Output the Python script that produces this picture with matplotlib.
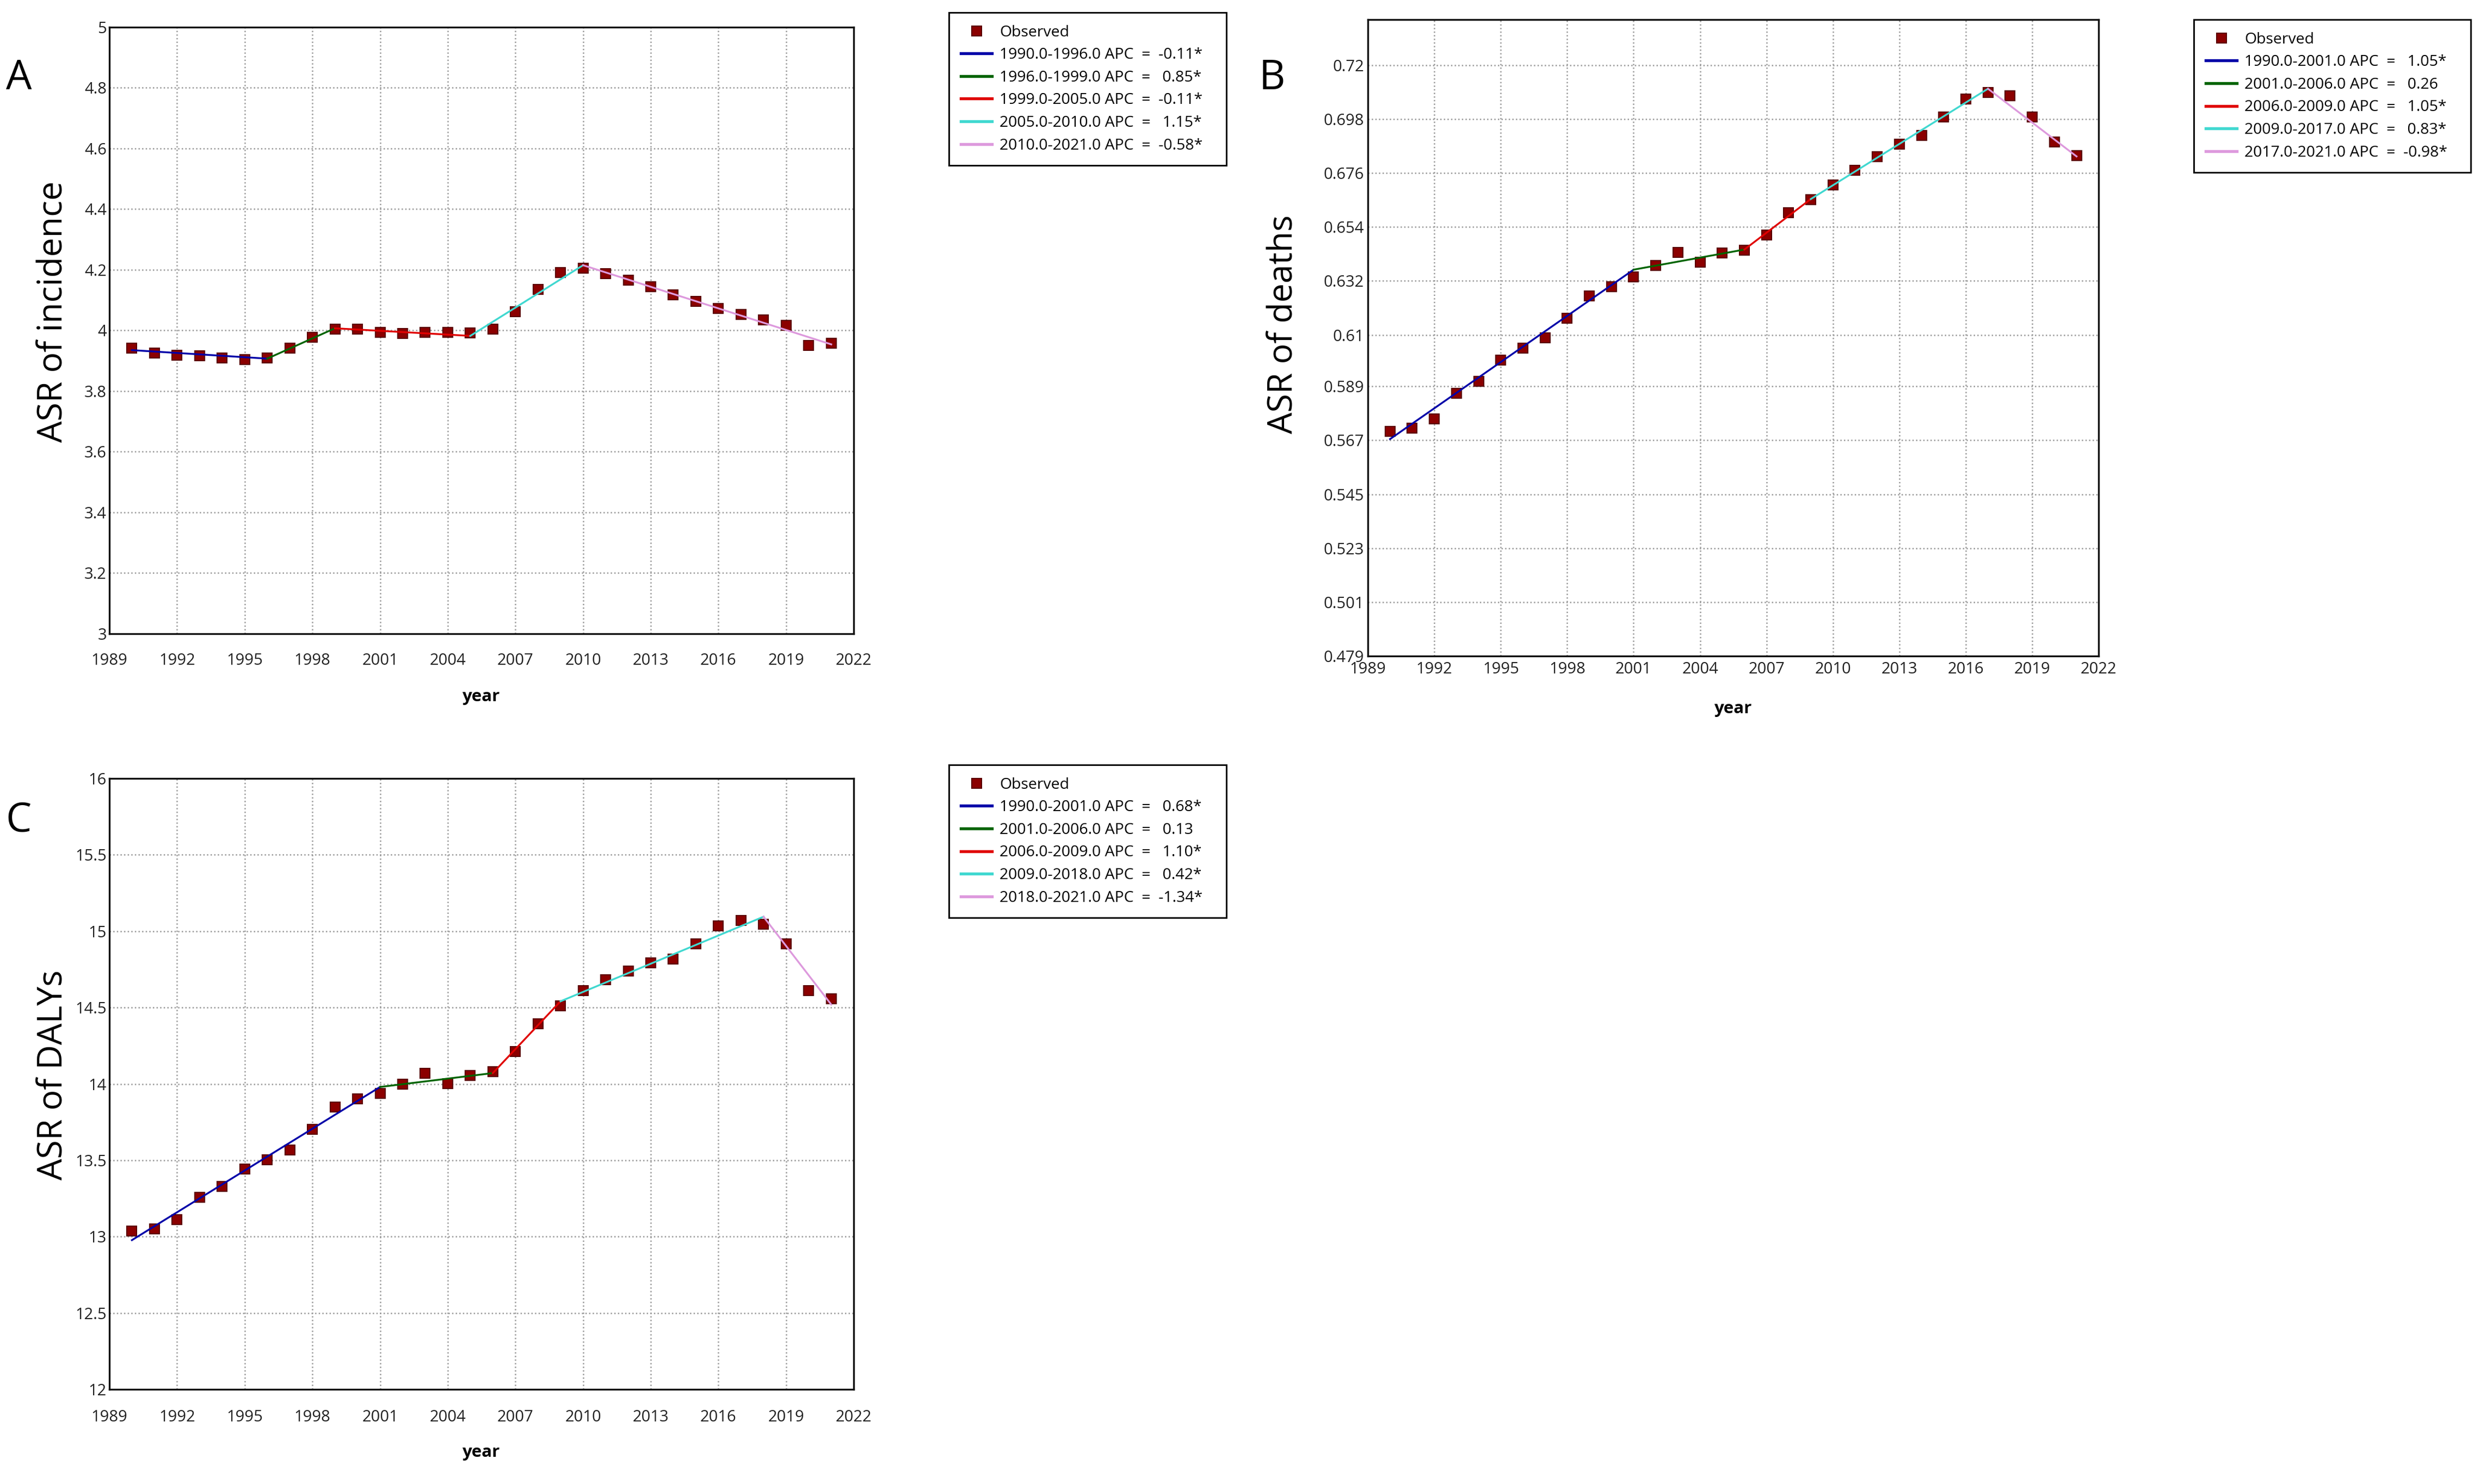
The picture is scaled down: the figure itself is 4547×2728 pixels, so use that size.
import numpy as np
import matplotlib.pyplot as plt

plt.rcParams['font.family'] = ['Open Sans', 'DejaVu Sans']

years = list(range(1990, 2022))

# observed age-standardised rates
incidence = [3.942, 3.925, 3.919, 3.916, 3.910, 3.904, 3.910, 3.942, 3.978, 4.004,
             4.004, 3.993, 3.990, 3.993, 3.993, 3.992, 4.005, 4.062, 4.135, 4.190,
             4.206, 4.187, 4.166, 4.144, 4.118, 4.096, 4.073, 4.052, 4.035, 4.016,
             3.950, 3.958]
deaths = [0.5707, 0.5719, 0.5757, 0.5861, 0.5911, 0.5998, 0.6046, 0.6088, 0.6169, 0.6258,
          0.6296, 0.6336, 0.6384, 0.6436, 0.6396, 0.6434, 0.6446, 0.6508, 0.6598, 0.6652,
          0.6711, 0.6771, 0.6827, 0.6877, 0.6913, 0.6988, 0.7062, 0.7088, 0.7075, 0.6988,
          0.6886, 0.6831]
dalys = [13.038, 13.050, 13.111, 13.258, 13.328, 13.444, 13.502, 13.566, 13.701, 13.850,
         13.902, 13.939, 14.000, 14.070, 14.003, 14.055, 14.082, 14.211, 14.394, 14.510,
         14.611, 14.681, 14.739, 14.791, 14.818, 14.919, 15.035, 15.072, 15.044, 14.916,
         14.611, 14.556]

# joinpoint fits: joinpoint years and fitted values at them
inc_joints = [1990, 1996, 1999, 2005, 2010, 2021]
inc_fit = [3.935, 3.907, 4.007, 3.982, 4.215, 3.954]
inc_labels = ['1990.0-1996.0 APC  =  -0.11*', '1996.0-1999.0 APC  =   0.85*',
              '1999.0-2005.0 APC  =  -0.11*', '2005.0-2010.0 APC  =   1.15*',
              '2010.0-2021.0 APC  =  -0.58*']

death_joints = [1990, 2001, 2006, 2009, 2017, 2021]
death_fit = [0.5675, 0.6366, 0.6448, 0.6654, 0.7104, 0.6828]
death_labels = ['1990.0-2001.0 APC  =   1.05*', '2001.0-2006.0 APC  =   0.26',
                '2006.0-2009.0 APC  =   1.05*', '2009.0-2017.0 APC  =   0.83*',
                '2017.0-2021.0 APC  =  -0.98*']

daly_joints = [1990, 2001, 2006, 2009, 2018, 2021]
daly_fit = [12.977, 13.980, 14.071, 14.541, 15.095, 14.52]
daly_labels = ['1990.0-2001.0 APC  =   0.68*', '2001.0-2006.0 APC  =   0.13',
               '2006.0-2009.0 APC  =   1.10*', '2009.0-2018.0 APC  =   0.42*',
               '2018.0-2021.0 APC  =  -1.34*']

inc_yticks = [3, 3.2, 3.4, 3.6, 3.8, 4, 4.2, 4.4, 4.6, 4.8, 5]
inc_yticklabels = ['3', '3.2', '3.4', '3.6', '3.8', '4', '4.2', '4.4', '4.6', '4.8', '5']
death_yticks = [0.479, 0.501, 0.523, 0.545, 0.567, 0.589, 0.61, 0.632, 0.654, 0.676, 0.698, 0.72]
death_yticklabels = ['0.479', '0.501', '0.523', '0.545', '0.567', '0.589', '0.61', '0.632',
                     '0.654', '0.676', '0.698', '0.72']
daly_yticks = [12, 12.5, 13, 13.5, 14, 14.5, 15, 15.5, 16]
daly_yticklabels = ['12', '12.5', '13', '13.5', '14', '14.5', '15', '15.5', '16']

seg_colors = ['#0000a8', '#006400', '#e00000', '#40d8d0', '#dd99dd']

fig = plt.figure(figsize=(4547 / 300, 2728 / 300), dpi=300)

ax_a = fig.add_axes([0.0442, 0.5730, 0.3009, 0.4087])
ax_b = fig.add_axes([0.5529, 0.5579, 0.2954, 0.4289])
ax_c = fig.add_axes([0.0442, 0.0638, 0.3009, 0.4116])


def draw_panel(ax, obs, joints, fit, labels, yticks, yticklabels, ylim, leg_box, xpad, ypad, xlab_y):
    ax.plot(years, obs, linestyle='none', marker='s', ms=4.3, mfc='#8b0000', mec='#5a0000',
            mew=0.5, label='Observed', zorder=3)
    for i in range(len(joints) - 1):
        ax.plot(joints[i:i + 2], fit[i:i + 2], color=seg_colors[i], lw=0.8,
                label=labels[i], zorder=4)
    ax.set_xlim(1989, 2022)
    ax.set_xticks(range(1989, 2023, 3))
    ax.set_ylim(*ylim)
    ax.set_yticks(yticks)
    ax.set_yticklabels(yticklabels)
    ax.grid(True, color='#999999', linestyle=':', linewidth=0.6)
    ax.tick_params(length=0, labelsize=7, colors='#222222')
    ax.tick_params(axis='x', pad=xpad)
    ax.tick_params(axis='y', pad=ypad)
    for sp in ax.spines.values():
        sp.set_linewidth(0.8)
        sp.set_color('#111111')
    ax.set_xlabel('year', fontsize=7.5, fontweight='bold', va='center')
    ax.xaxis.set_label_coords(0.5, xlab_y)
    leg = ax.legend(loc='upper left', bbox_to_anchor=leg_box, bbox_transform=fig.transFigure,
                    mode='expand', borderaxespad=0, fancybox=False, edgecolor='black',
                    fontsize=6.8, handlelength=2.0, handletextpad=0.5, labelspacing=0.48,
                    borderpad=0.8, numpoints=1, framealpha=1)
    leg.get_frame().set_linewidth(0.7)
    for line in leg.get_lines()[1:]:
        line.set_linewidth(1.3)


draw_panel(ax_a, incidence, inc_joints, inc_fit, inc_labels, inc_yticks, inc_yticklabels,
           (3, 5), (0.3835, 0.8856, 0.1122, 0.1060), 8.5, 1.2, -0.104)
draw_panel(ax_b, deaths, death_joints, death_fit, death_labels, death_yticks, death_yticklabels,
           (0.479, 0.7386), (0.8867, 0.8805, 0.1120, 0.1063), 2.5, 1.7, -0.083)
draw_panel(ax_c, dalys, daly_joints, daly_fit, daly_labels, daly_yticks, daly_yticklabels,
           (12, 16), (0.3835, 0.3779, 0.1122, 0.1067), 9.0, 1.2, -0.103)

# panel letters and y labels
fig.text(0.0077, 0.9472, 'A', fontsize=18, ha='center', va='center')
fig.text(0.5142, 0.9472, 'B', fontsize=18, ha='center', va='center')
fig.text(0.0075, 0.4468, 'C', fontsize=18, ha='center', va='center')

fig.text(0.0213, 0.790, 'ASR of incidence', fontsize=15, rotation=90, ha='center', va='center')
fig.text(0.5186, 0.7815, 'ASR of deaths', fontsize=15, rotation=90, ha='center', va='center')
fig.text(0.0213, 0.2757, 'ASR of DALYs', fontsize=15, rotation=90, ha='center', va='center')

fig.savefig('out.png', dpi=300)
